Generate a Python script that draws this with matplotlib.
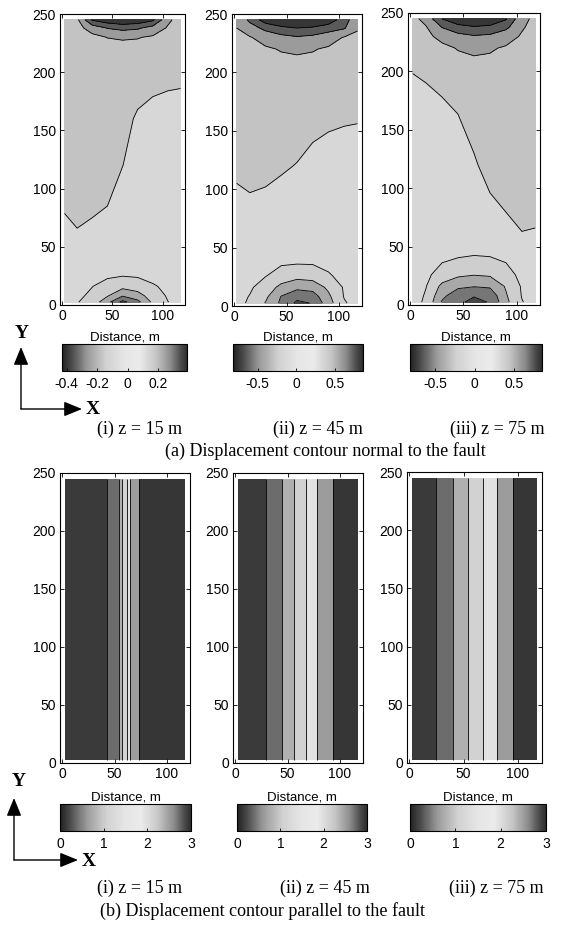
import numpy as np
import matplotlib
matplotlib.use("Agg")
import matplotlib.pyplot as plt
from matplotlib.colors import LinearSegmentedColormap, Normalize
from matplotlib.cm import ScalarMappable
from matplotlib.patches import FancyArrowPatch

plt.rcParams["font.family"] = ["Liberation Sans", "DejaVu Sans"]
plt.rcParams["axes.unicode_minus"] = False

W, H, DPI = 563, 925, 100

# ---------------------------------------------------------------- data
# (a) displacement normal to the fault, m  (rows = Y_NORM, cols = X_NORM)
X_NORM = [2.5, 15, 30, 45, 60, 75, 90, 105, 117.5]
Y_NORM = [2.5, 8, 16, 26, 45, 80, 120, 160, 200, 220, 230, 238, 245]

U_NORM_15 = [
    [-0.06, -0.095, -0.14, -0.27, -0.43, -0.33, -0.18, -0.102, -0.07],
    [-0.055, -0.08, -0.12, -0.19, -0.29, -0.24, -0.15, -0.09, -0.065],
    [-0.05, -0.065, -0.098, -0.14, -0.17, -0.15, -0.11, -0.08, -0.06],
    [-0.045, -0.05, -0.06, -0.08, -0.09, -0.085, -0.07, -0.06, -0.05],
    [-0.05, -0.06, -0.06, -0.05, -0.05, -0.05, -0.05, -0.05, -0.05],
    [0.002, 0.04, 0.01, -0.01, -0.06, -0.05, -0.05, -0.05, -0.05],
    [0.05, 0.05, 0.05, 0.07, 0.002, -0.05, -0.05, -0.05, -0.05],
    [0.05, 0.05, 0.05, 0.05, 0.05, -0.02, -0.045, -0.06, -0.065],
    [0.05, 0.05, 0.05, 0.05, 0.05, 0.08, 0.05, 0.04, 0.035],
    [0.05, 0.055, 0.06, 0.068, 0.07, 0.07, 0.065, 0.058, 0.05],
    [0.052, 0.058, 0.075, 0.102, 0.11, 0.105, 0.088, 0.065, 0.052],
    [0.055, 0.07, 0.14, 0.205, 0.23, 0.215, 0.16, 0.09, 0.055],
    [0.055, 0.08, 0.31, 0.36, 0.39, 0.37, 0.32, 0.12, 0.06],
]
U_NORM_45 = [
    [-0.14, -0.23, -0.41, -0.64, -0.84, -0.79, -0.48, -0.22, -0.13],
    [-0.13, -0.21, -0.36, -0.61, -0.74, -0.70, -0.44, -0.19, -0.12],
    [-0.12, -0.17, -0.30, -0.45, -0.55, -0.52, -0.36, -0.18, -0.11],
    [-0.11, -0.13, -0.19, -0.29, -0.33, -0.31, -0.22, -0.14, -0.11],
    [-0.10, -0.10, -0.10, -0.09, -0.08, -0.09, -0.10, -0.10, -0.10],
    [-0.10, -0.074, -0.10, -0.10, -0.10, -0.10, -0.10, -0.10, -0.10],
    [0.06, 0.10, 0.082, 0.025, -0.008, -0.10, -0.10, -0.10, -0.10],
    [0.10, 0.10, 0.10, 0.10, 0.10, 0.10, 0.038, 0.018, 0.011],
    [0.10, 0.11, 0.12, 0.13, 0.14, 0.13, 0.12, 0.11, 0.10],
    [0.13, 0.15, 0.18, 0.21, 0.22, 0.21, 0.18, 0.15, 0.13],
    [0.16, 0.19, 0.26, 0.34, 0.38, 0.35, 0.27, 0.19, 0.16],
    [0.20, 0.30, 0.46, 0.55, 0.60, 0.57, 0.50, 0.42, 0.22],
    [0.21, 0.45, 0.70, 0.80, 0.85, 0.82, 0.72, 0.50, 0.24],
]
U_NORM_75 = [
    [-0.12, -0.24, -0.62, -0.77, -0.84, -0.79, -0.45, -0.21, -0.12],
    [-0.115, -0.22, -0.55, -0.72, -0.79, -0.74, -0.42, -0.19, -0.11],
    [-0.11, -0.195, -0.45, -0.56, -0.59, -0.57, -0.38, -0.18, -0.105],
    [-0.10, -0.16, -0.28, -0.36, -0.39, -0.37, -0.27, -0.15, -0.10],
    [-0.10, -0.11, -0.13, -0.15, -0.17, -0.16, -0.14, -0.12, -0.10],
    [-0.10, -0.10, -0.10, -0.10, -0.10, -0.067, 0.002, 0.113, 0.067],
    [-0.10, -0.10, -0.10, -0.10, -0.033, 0.10, 0.10, 0.10, 0.10],
    [-0.10, -0.10, -0.09, -0.011, 0.10, 0.10, 0.10, 0.10, 0.10],
    [0.005, 0.033, 0.11, 0.12, 0.14, 0.13, 0.12, 0.10, 0.10],
    [0.06, 0.10, 0.16, 0.21, 0.23, 0.22, 0.18, 0.13, 0.10],
    [0.10, 0.16, 0.25, 0.34, 0.38, 0.36, 0.28, 0.18, 0.12],
    [0.13, 0.19, 0.41, 0.52, 0.58, 0.55, 0.45, 0.22, 0.14],
    [0.15, 0.26, 0.60, 0.78, 0.85, 0.80, 0.62, 0.25, 0.16],
]
LEVELS_NORM_15 = [-0.4, -0.3, -0.2, -0.1, 0.0, 0.1, 0.2, 0.3]
LEVELS_NORM_45 = [-0.8, -0.6, -0.4, -0.2, 0.0, 0.2, 0.4, 0.6]
LEVELS_NORM_75 = [-0.8, -0.6, -0.4, -0.2, 0.0, 0.2, 0.4, 0.6]
CRANGE_NORM_15 = (-0.43, 0.39)
CRANGE_NORM_45 = (-0.82, 0.86)
CRANGE_NORM_75 = (-0.82, 0.85)
CTICKS_NORM_15 = [-0.4, -0.2, 0, 0.2]
CTICKS_NORM_45 = [-0.5, 0, 0.5]
CTICKS_NORM_75 = [-0.5, 0, 0.5]

# (b) displacement parallel to the fault, m: profile across the fault
Y_PAR = [2.5, 245]
X_PAR_15 = [2.5, 30, 43, 54, 57, 62, 65, 73, 90, 117.5]
U_PAR_15 = [0.0, 0.1, 0.25, 0.75, 1.25, 1.75, 2.25, 2.75, 2.9, 3.0]
X_PAR_45 = [2.5, 15, 29, 45, 56, 68, 78, 93, 105, 117.5]
U_PAR_45 = [0.02, 0.1, 0.25, 0.75, 1.25, 1.75, 2.25, 2.75, 2.9, 2.97]
X_PAR_75 = [2.5, 12, 25, 40, 54, 68, 81, 95.5, 108, 117.5]
U_PAR_75 = [0.05, 0.12, 0.25, 0.75, 1.25, 1.75, 2.25, 2.75, 2.88, 2.95]
LEVELS_PAR = [0.25, 0.75, 1.25, 1.75, 2.25, 2.75]
CRANGE_PAR = (0, 3)
CTICKS_PAR = [0, 1, 2, 3]

DEPTHS = ["(i) z = 15 m", "(ii) z = 45 m", "(iii) z = 75 m"]

# ---------------------------------------------------------------- style
NORM_COLORS = ["#454545", "#767676", "#a8a8a8", "#cecece", "#d7d7d7",
               "#c3c3c3", "#9b9b9b", "#5a5a5a", "#363636"]
PAR_COLORS = ["#3a3a3a", "#6c6c6c", "#b0b0b0", "#d2d2d2", "#e2e2e2",
              "#9c9c9c", "#363636"]
CMAP = LinearSegmentedColormap.from_list("scan", [
    (0.00, (0.13,) * 3), (0.08, (0.30,) * 3), (0.20, (0.60,) * 3),
    (0.35, (0.82,) * 3), (0.50, (0.90,) * 3), (0.62, (0.92,) * 3),
    (0.75, (0.78,) * 3), (0.87, (0.55,) * 3), (0.95, (0.30,) * 3),
    (1.00, (0.18,) * 3)])

fig = plt.figure(figsize=(W / DPI, H / DPI), dpi=DPI)


def px_axes(left, right, top, bottom):
    return fig.add_axes([left / W, 1 - bottom / H, (right - left) / W,
                         (bottom - top) / H])


def px_text(x, y, s, **kw):
    fig.text(x / W, 1 - y / H, s, ha="center", va="center", **kw)


def contour_panel(ax, x, y, z, levels, colors, lo, hi):
    fill_levels = [lo] + list(levels) + [hi]
    ax.contourf(x, y, z, levels=fill_levels, colors=colors)
    ax.contour(x, y, z, levels=levels, colors="k", linewidths=0.6,
               linestyles="solid")
    ax.set_xlim(-2, 122)
    ax.set_ylim(0, 250)
    ax.set_xticks([0, 50, 100])
    ax.set_yticks([0, 50, 100, 150, 200, 250])
    ax.tick_params(direction="in", length=3, width=0.6, top=True,
                   right=True, labelsize=10, pad=3)
    for s in ax.spines.values():
        s.set_linewidth(0.8)


def colorbar(cax, lo, hi, ticks):
    sm = ScalarMappable(norm=Normalize(lo, hi), cmap=CMAP)
    cb = fig.colorbar(sm, cax=cax, orientation="horizontal", ticks=ticks)
    cb.set_ticklabels([f"{t:g}" for t in ticks])
    cb.ax.tick_params(direction="in", length=2, width=0.6, labelsize=10,
                      pad=4)
    cb.outline.set_linewidth(0.8)


def axis_icon(x0, y0, x_tip, y_tip, ylab, xlab):
    for end in [(x0, y_tip), (x_tip, y0)]:
        fig.add_artist(FancyArrowPatch(
            (x0 / W, 1 - y0 / H), (end[0] / W, 1 - end[1] / H),
            transform=fig.transFigure, color="k", lw=1.0,
            arrowstyle="-|>,head_length=1.1,head_width=0.45",
            mutation_scale=10, shrinkA=0, shrinkB=0))
    px_text(*ylab, "Y", family="Liberation Serif", weight="bold",
            fontsize=14)
    px_text(*xlab, "X", family="Liberation Serif", weight="bold",
            fontsize=14)


# ---------------------------------------------------------------- top row
top_fields = [U_NORM_15, U_NORM_45, U_NORM_75]
top_levels = [LEVELS_NORM_15, LEVELS_NORM_45, LEVELS_NORM_75]
top_ranges = [CRANGE_NORM_15, CRANGE_NORM_45, CRANGE_NORM_75]
top_cticks = [CTICKS_NORM_15, CTICKS_NORM_45, CTICKS_NORM_75]
top_boxes = [(60, 185, 14, 305), (232, 362, 14, 306), (408, 540, 13, 305)]
top_cbars = [(62, 187), (233, 363), (410, 542)]

for k in range(3):
    ax = px_axes(*top_boxes[k])
    contour_panel(ax, X_NORM, Y_NORM, np.array(top_fields[k]),
                  top_levels[k], NORM_COLORS, -2.0, 2.0)
    cx = sum(top_cbars[k]) / 2
    px_text(cx, 337, "Distance, m", fontsize=9.5)
    cax = px_axes(top_cbars[k][0], top_cbars[k][1], 344, 371)
    colorbar(cax, *top_ranges[k], top_cticks[k])

axis_icon(21, 409, 82, 347, (22, 333), (93, 410))
px_text(140, 429, DEPTHS[0], family="Liberation Serif", fontsize=13)
px_text(318, 429, DEPTHS[1], family="Liberation Serif", fontsize=13)
px_text(497, 429, DEPTHS[2], family="Liberation Serif", fontsize=13)
px_text(325, 451, "(a) Displacement contour normal to the fault",
        family="Liberation Serif", fontsize=13)

# ---------------------------------------------------------------- bottom row
par_x = [X_PAR_15, X_PAR_45, X_PAR_75]
par_u = [U_PAR_15, U_PAR_45, U_PAR_75]
bot_boxes = [(60, 190, 473, 763), (233, 363, 473, 763), (407, 542, 472, 763)]
bot_cbars = [(60, 191), (237, 367), (410, 546)]

for k in range(3):
    ax = px_axes(*bot_boxes[k])
    z = np.array([par_u[k] for _ in Y_PAR])
    contour_panel(ax, par_x[k], Y_PAR, z, LEVELS_PAR, PAR_COLORS,
                  -1.0, 4.0)
    cx = sum(bot_cbars[k]) / 2
    px_text(cx, 797, "Distance, m", fontsize=9.5)
    cax = px_axes(bot_cbars[k][0], bot_cbars[k][1], 804, 831)
    colorbar(cax, *CRANGE_PAR, CTICKS_PAR)

axis_icon(14, 860, 78, 798, (19, 782), (89, 861))
px_text(140, 888, DEPTHS[0], family="Liberation Serif", fontsize=13)
px_text(325, 888, DEPTHS[1], family="Liberation Serif", fontsize=13)
px_text(496, 888, DEPTHS[2], family="Liberation Serif", fontsize=13)
px_text(263, 911, "(b) Displacement contour parallel to the fault",
        family="Liberation Serif", fontsize=13)

fig.savefig("out.png", dpi=DPI)
